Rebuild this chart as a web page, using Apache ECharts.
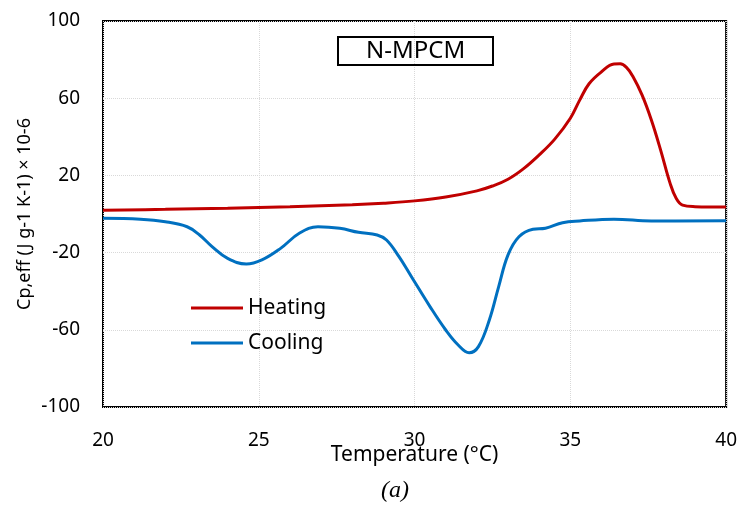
<!DOCTYPE html>
<html>
<head>
<meta charset="utf-8">
<script src="https://cdn.jsdelivr.net/npm/echarts@6/dist/echarts.min.js"></script>
<style>
  html, body { margin: 0; padding: 0; background: #fff; }
  #chart { width: 740px; height: 506px; }
</style>
</head>
<body>
<div id="chart"></div>
<script>
// Heating curve: [temperature, Cp,eff]
const heatingT = [20, 22, 24, 26, 28, 29, 30, 31, 32, 32.5, 33, 33.5, 34, 34.5, 35, 35.3, 35.6, 36, 36.4, 36.6, 36.8, 37, 37.3, 37.6, 37.9, 38.2, 38.4, 38.6, 39, 40]
const heatingV = [2.0, 2.4, 3.0, 3.8, 4.8, 5.6, 6.8, 8.8, 12, 14.5, 18, 23.5, 30.6, 38.8, 49.6, 59, 67.5, 73.7, 77.7, 77.8, 76, 71.5, 61.7, 48.7, 33, 16, 8, 4.6, 3.8, 3.6]

// Cooling curve
const coolingT = [20, 21.2, 22, 22.7, 23.1, 23.5, 24, 24.6, 25.1, 25.7, 26.3, 26.9, 27.6, 28.2, 28.8, 29.1, 29.5, 29.9, 30.5, 31, 31.4, 31.75, 32.05, 32.4, 32.7, 33, 33.35, 33.8, 34.2, 34.75, 35.3, 36.4, 37.6, 40]
const coolingV = [-2.2, -2.7, -4.0, -6.6, -10.9, -16.9, -23.0, -25.9, -23.8, -17.8, -10.0, -6.6, -7.4, -9.5, -10.9, -13.5, -22.1, -32.5, -48.1, -60.1, -67.9, -71.9, -68.7, -54.9, -37.6, -21.2, -11.8, -7.9, -7.4, -4.5, -3.6, -2.7, -3.6, -3.5]

const xTicks = [20, 25, 30, 35, 40]
const yTicks = [-100, -60, -20, 20, 60, 100]

const zip = (a, b) => a.map((x, i) => [x, b[i]])

const chart = echarts.init(document.getElementById('chart'), null, { renderer: 'canvas' })
const font = 'Noto Sans'

chart.setOption({
  animation: false,
  title: [{
    text: 'N-MPCM',
    left: 338,
    top: 37,
    borderColor: '#000',
    borderWidth: 2,
    padding: [1, 28, 0, 28],
    textStyle: { fontFamily: font, fontSize: 24, lineHeight: 27, fontWeight: 'normal', color: '#000' }
  }, {
    text: '(a)',
    left: 381,
    top: 479,
    padding: 0,
    textStyle: { fontFamily: 'Liberation Serif', fontStyle: 'italic', fontSize: 24, fontWeight: 'normal', color: '#000' }
  }],
  legend: {
    orient: 'vertical',
    left: 191,
    top: 296,
    padding: 0,
    icon: 'rect',
    itemWidth: 52,
    itemHeight: 3,
    itemGap: 11,
    textStyle: { fontFamily: font, fontSize: 21, lineHeight: 24, color: '#000' },
    data: ['Heating', 'Cooling']
  },
  grid: {
    left: 103, right: 12, top: 21, bottom: 99,
    show: true,
    borderColor: '#000',
    borderWidth: 2
  },
  xAxis: {
    type: 'value',
    min: xTicks[0],
    max: xTicks[xTicks.length - 1],
    interval: 5,
    name: 'Temperature (°C)',
    nameLocation: 'middle',
    nameGap: 38,
    nameMoveOverlap: false,
    nameTextStyle: { fontFamily: font, fontSize: 21, color: '#000' },
    axisLine: { show: false },
    axisTick: { show: false },
    axisLabel: { fontFamily: font, fontSize: 19, color: '#000', margin: 24 },
    splitLine: { show: true, lineStyle: { color: '#d9d9d9', type: 'dotted', width: 1 } }
  },
  yAxis: {
    type: 'value',
    min: yTicks[0],
    max: yTicks[yTicks.length - 1],
    interval: 40,
    name: 'Cp,eff (J g-1 K-1) × 10-6',
    nameLocation: 'middle',
    nameGap: 69,
    nameMoveOverlap: false,
    nameTextStyle: { fontFamily: font, fontSize: 18, color: '#000' },
    axisLine: { show: false },
    axisTick: { show: false },
    axisLabel: { fontFamily: font, fontSize: 19, color: '#000', margin: 23 },
    splitLine: { show: true, lineStyle: { color: '#d9d9d9', type: 'dotted', width: 1 } }
  },
  series: [{
    name: 'Heating',
    type: 'line',
    data: zip(heatingT, heatingV),
    smooth: 0.4,
    symbol: 'none',
    lineStyle: { color: '#C00000', width: 3 },
    itemStyle: { color: '#C00000' }
  }, {
    name: 'Cooling',
    type: 'line',
    data: zip(coolingT, coolingV),
    smooth: 0.4,
    symbol: 'none',
    lineStyle: { color: '#0070C0', width: 3 },
    itemStyle: { color: '#0070C0' }
  }]
})
</script>
</body>
</html>
